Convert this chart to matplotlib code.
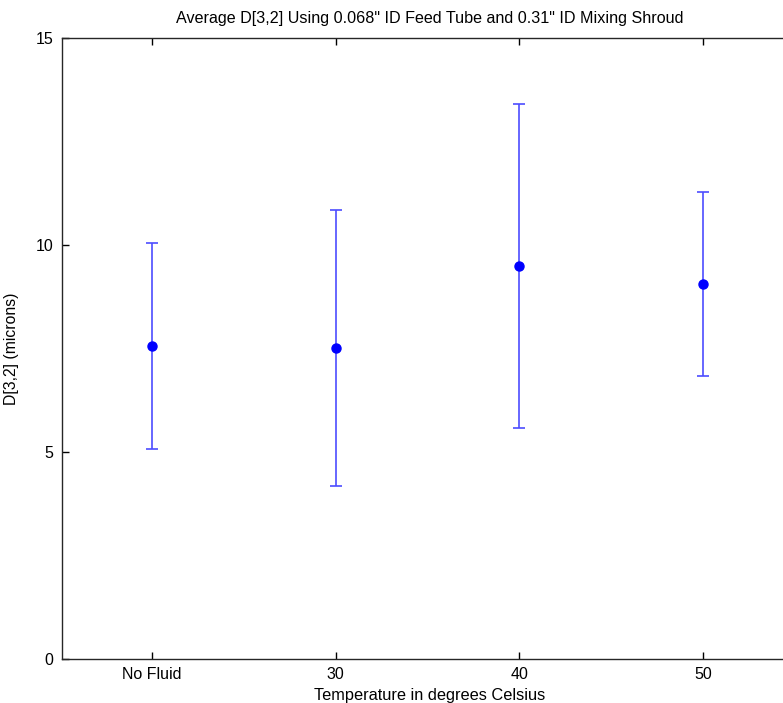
#!/usr/bin/env python3
"""
Average D[3,2] per feed temperature, with error bars
"""
import matplotlib
matplotlib.use('Agg')
import matplotlib.pyplot as plt

categories = ['No Fluid', '30', '40', '50']
mean_d32 = [7.56, 7.51, 9.49, 9.06]
err_d32 = [2.49, 3.33, 3.92, 2.22]
y_ticks = [0, 5, 10, 15]

plt.rcParams['font.family'] = ['Liberation Sans', 'DejaVu Sans']
plt.rcParams['font.size'] = 11.5

fig = plt.figure(figsize=(7.83, 7.03), dpi=100)
ax = fig.add_axes([0.0792, 0.0626, 0.9385, 0.8834])

x = list(range(1, len(categories) + 1))
ax.errorbar(x, mean_d32, yerr=err_d32, fmt='o', color='blue', ecolor='#4d4dff',
            markersize=6.5, elinewidth=1.2, capsize=4.3, capthick=1.2)

ax.set_xlim(0.51, 4.51)
ax.set_ylim(0, 15)
ax.set_xticks(x)
ax.set_xticklabels(categories)
ax.set_yticks(y_ticks)
ax.tick_params(direction='in', top=True, right=True, length=5, width=1,
               labelsize=11.5, pad=6)
for spine in ax.spines.values():
  spine.set_linewidth(1)
  spine.set_color('#262626')

ax.set_xlabel('Temperature in degrees Celsius', fontsize=11.8, labelpad=4)
ax.set_ylabel('D[3,2] (microns)', fontsize=11.3, labelpad=12)
ax.set_title('Average D[3,2] Using 0.068" ID Feed Tube and 0.31" ID Mixing Shroud',
             fontsize=11.6, pad=11)

plt.savefig('out.png', dpi=100)
